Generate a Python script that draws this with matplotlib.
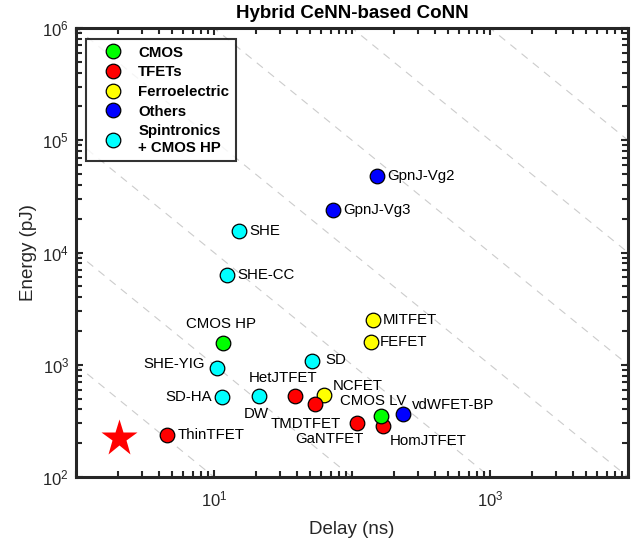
import numpy as np
import matplotlib.pyplot as plt
from matplotlib.lines import Line2D
from matplotlib.ticker import LogLocator, NullFormatter

plt.rcParams['font.family'] = ['Liberation Sans', 'DejaVu Sans']
plt.rcParams['mathtext.fontset'] = 'custom'
plt.rcParams['mathtext.rm'] = 'Liberation Sans'
plt.rcParams['mathtext.it'] = 'Liberation Sans:italic'
plt.rcParams['mathtext.bf'] = 'Liberation Sans:bold'

# data (delay in ns, energy in pJ)
names = ['GpnJ-Vg2', 'GpnJ-Vg3', 'vdWFET-BP',
         'MITFET', 'FEFET', 'NCFET',
         'SHE', 'SHE-CC', 'SHE-YIG', 'SD-HA', 'DW', 'SD',
         'HetJTFET', 'TMDTFET', 'GaNTFET', 'HomJTFET', 'ThinTFET',
         'CMOS HP', 'CMOS LV']
delay = [153, 73, 235,
         141, 137, 63,
         15.3, 12.4, 10.6, 11.5, 21.3, 51,
         38.6, 54, 108, 167, 4.6,
         11.6, 161]
energy = [48300, 23800, 366,
          2500, 1595, 538,
          15600, 6340, 942, 516, 527, 1074,
          527, 444, 303, 283, 237,
          1572, 347]
group = ['Others', 'Others', 'Others',
         'Ferroelectric', 'Ferroelectric', 'Ferroelectric',
         'Spin', 'Spin', 'Spin', 'Spin', 'Spin', 'Spin',
         'TFETs', 'TFETs', 'TFETs', 'TFETs', 'TFETs',
         'CMOS', 'CMOS']

this_delay = [2.06]
this_energy = [221]

edp_lines = [1e3, 1e4, 1e5, 1e6, 1e7, 1e8, 1e9]

legend_groups = ['CMOS', 'TFETs', 'Ferroelectric', 'Others', 'Spin']
legend_labels = ['CMOS', 'TFETs', 'Ferroelectric', 'Others', 'Spintronics\n+ CMOS HP']
colors = {'CMOS': (0, 1, 0), 'TFETs': (1, 0, 0), 'Ferroelectric': (1, 1, 0),
          'Others': (0, 0, 1), 'Spin': (0, 1, 1)}
zorders = {'Others': 3, 'Ferroelectric': 3, 'Spin': 3, 'TFETs': 4, 'CMOS': 5}

# label placement: (dx, dy) in pixels, horizontal alignment
label_pos = {
    'GpnJ-Vg2': (10, 0, 'left'), 'GpnJ-Vg3': (10, 0, 'left'),
    'vdWFET-BP': (9, 9, 'left'), 'MITFET': (10, 0, 'left'),
    'FEFET': (9, 0, 'left'), 'NCFET': (8, 9, 'left'),
    'SHE': (10, 0, 'left'), 'SHE-CC': (10, 0, 'left'),
    'SHE-YIG': (-13, 4, 'right'), 'SD-HA': (-10, 0, 'right'),
    'DW': (-3, -18, 'center'), 'SD': (14, 1, 'left'),
    'HetJTFET': (-12, 18, 'center'), 'TMDTFET': (-9, -20, 'center'),
    'GaNTFET': (-27, -16, 'center'), 'HomJTFET': (7, -15, 'left'),
    'ThinTFET': (10, 0, 'left'), 'CMOS HP': (-2, 19, 'center'),
    'CMOS LV': (-7, 15, 'center'),
}

fig = plt.figure(figsize=(6.41, 5.43), dpi=100)
ax = fig.add_axes([76/641, 66/543, 552/641, 449/543])
ax.set_xscale('log')
ax.set_yscale('log')
ax.set_xlim(1, 1e4)
ax.set_ylim(1e2, 1e6)

# constant energy-delay product guides
xx = np.logspace(0, 4, 50)
for edp in edp_lines:
    ax.plot(xx, edp / xx, '--', color=(0.8, 0.8, 0.8), lw=0.8, dashes=(7, 6), zorder=1)

for n, d, e, g in zip(names, delay, energy, group):
    ax.plot(d, e, 'o', ms=10.5, mfc=colors[g], mec='k', mew=0.9, zorder=zorders[g])
    dx, dy, ha = label_pos[n]
    ax.annotate(n, (d, e), xytext=(dx, dy), textcoords='offset pixels',
                ha=ha, va='center', fontsize=10.8, color='k', zorder=6)

ax.plot(this_delay, this_energy, '*', ms=28, color='r', mec='none', zorder=5)

handles = [Line2D([], [], ls='none', marker='o', ms=10.5, mfc=colors[g], mec='k', mew=0.9)
           for g in legend_groups]
leg = ax.legend(handles, legend_labels, loc='upper left', bbox_to_anchor=(0.019, 0.976),
                prop={'weight': 'bold', 'size': 10.8}, frameon=True, fancybox=False,
                edgecolor='k', borderpad=0.45, labelspacing=0.38, handletextpad=0.4,
                handlelength=2.6, borderaxespad=0)
leg.get_frame().set_linewidth(1.5)

ax.set_xticks([10, 1000])
ax.xaxis.set_minor_locator(LogLocator(base=10, subs=np.arange(1, 10), numticks=20))
ax.xaxis.set_minor_formatter(NullFormatter())
ax.yaxis.set_minor_locator(LogLocator(base=10, subs=np.arange(2, 10), numticks=20))
ax.yaxis.set_minor_formatter(NullFormatter())

gray = (0.15, 0.15, 0.15)
ax.tick_params(which='both', direction='in', top=True, right=True, colors=gray,
               width=1.5, labelsize=12)
ax.tick_params(which='major', length=5)
ax.tick_params(which='minor', length=4)
ax.tick_params(axis='x', which='major', pad=9)
ax.tick_params(axis='y', which='major', pad=5)
for s in ax.spines.values():
    s.set_linewidth(2.2)
    s.set_color(gray)

ax.set_xlabel('Delay (ns)', fontsize=13.5, color=gray, labelpad=8)
ax.set_ylabel('Energy (pJ)', fontsize=13.5, color=gray, labelpad=4)
ax.set_title('Hybrid CeNN-based CoNN', fontsize=13.5, fontweight='bold', pad=7)

fig.savefig('out.png', dpi=100)
